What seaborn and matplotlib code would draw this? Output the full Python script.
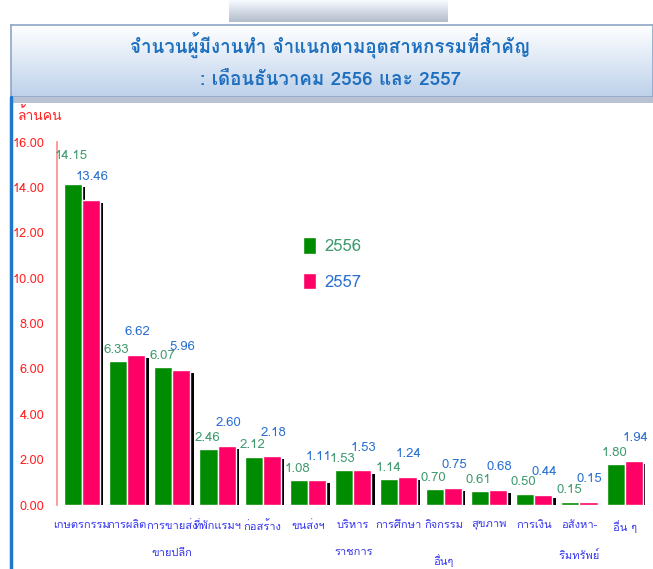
import numpy as np
import pandas as pd
import matplotlib
matplotlib.use("Agg")
import matplotlib.pyplot as plt
import matplotlib.patheffects as pe
from matplotlib import font_manager as fm
from matplotlib.ft2font import FT2Font
from matplotlib.patches import Rectangle
import seaborn as sns

# ---------------- data ----------------
categories = ["เกษตรกรรม", "การผลิต", "การขายส่ง\nขายปลีก", "ที่พักแรมฯ", "ก่อสร้าง",
              "ขนส่งฯ", "บริหาร\nราชการ", "การศึกษา", "กิจกรรม\nอื่นๆ", "สุขภาพ",
              "การเงิน", "อสังหา-\nริมทรัพย์", "อื่น ๆ"]
values_2556 = [14.15, 6.33, 6.07, 2.46, 2.12, 1.08, 1.53, 1.14, 0.70, 0.61, 0.50, 0.15, 1.80]
values_2557 = [13.46, 6.62, 5.96, 2.60, 2.18, 1.11, 1.53, 1.24, 0.75, 0.68, 0.44, 0.15, 1.94]
series = ["2556", "2557"]
yticks = [0, 2, 4, 6, 8, 10, 12, 14, 16]
title_line1 = "จำนวนผู้มีงานทำ จำแนกตามอุตสาหกรรมที่สำคัญ"
title_line2 = ": เดือนธันวาคม 2556 และ 2557"
ylabel = "ล้านคน"

# ---------------- fonts ----------------
sns.set_theme(style="white")
thai_fams = []
for f in fm.fontManager.ttflist:
    try:
        ft = FT2Font(f.fname)
        if ft.get_char_index(ord("ก")) and f.name not in thai_fams:
            thai_fams.append(f.name)
    except Exception:
        pass
pref = [n for n in thai_fams if "Tahoma" in n or "Loma" in n or "Thai" in n]
fams = (pref + thai_fams)[:1] + ["DejaVu Sans"]
plt.rcParams["font.family"] = fams

df = pd.DataFrame({
    "cat": categories * 2,
    "year": [series[0]] * len(categories) + [series[1]] * len(categories),
    "val": values_2556 + values_2557,
})

W, H = 653, 569
fig = plt.figure(figsize=(W / 100, H / 100), dpi=100)
fig.patch.set_facecolor("white")

def fx(px):
    return px / W

def fy(py):
    return 1 - py / H

# decorative top picture
top_ax = fig.add_axes([fx(229), fy(22), fx(218), 22 / H])
g = np.linspace(0, 1, 50).reshape(-1, 1, 1)
timg = (np.array([0.97, 0.98, 1.0]) * (1 - g) + np.array([0.70, 0.74, 0.80]) * g) * np.ones((1, 10, 1))
top_ax.imshow(timg, aspect="auto")
top_ax.axis("off")

# banner
ban = fig.add_axes([fx(11), fy(97), 1 - fx(11), 72 / H])
grad = np.linspace(0, 1, 100).reshape(-1, 1)
c_top = np.array([1.0, 1.0, 1.0])
c_bot = np.array([0.74, 0.82, 0.92])
img = (c_top * (1 - grad[..., None]) + c_bot * grad[..., None]) * np.ones((1, 2, 1))
ban.imshow(img, aspect="auto", extent=[0, 1, 0, 1])
ban.set_xlim(0, 1)
ban.set_ylim(0, 1)
ban.set_xticks([])
ban.set_yticks([])
for s in ban.spines.values():
    s.set_color("#8ea6c6")
    s.set_linewidth(1.2)
ban.text(0.497, 0.72, title_line1, ha="center", va="center", fontsize=13.5,
         fontweight="bold", color="#1f6fbf", transform=ban.transAxes)
ban.text(0.497, 0.23, title_line2, ha="center", va="center", fontsize=13.5,
         fontweight="bold", color="#1f6fbf", transform=ban.transAxes)

# strip under banner and left blue line
fig.patches.append(Rectangle((fx(12), fy(103)), 1 - fx(12), 6 / H, transform=fig.transFigure,
                             facecolor="#b8c2d2", edgecolor="none", hatch="....", zorder=0))
fig.add_artist(plt.Line2D([fx(11), fx(11)], [fy(97), 0], transform=fig.transFigure,
                          color="#1e78d0", lw=2.5))

# main axes
ax = fig.add_axes([fx(57), fy(505), fx(645) - fx(57), (505 - 142) / H])
sns.barplot(data=df, x="cat", y="val", hue="year", palette=["#008c00", "#ff0066"],
            width=0.8, saturation=1, ax=ax, legend=True, zorder=3)
ax.set_xlim(-0.55, 12.45)
ax.set_ylim(0, 16)
ax.set_yticks(yticks)
ax.set_yticklabels([f"{v:.2f}" for v in yticks], color="#ff2020", fontsize=9.2)
ax.tick_params(axis="y", length=4, color="#ff8080", width=1, direction="out", pad=5)
ax.tick_params(axis="x", length=0, pad=11)
ax.set_xticks(range(len(categories)))
ax.set_xticklabels(categories, color="#3535f0", fontsize=8, linespacing=3.15, va="top")
ax.set_xlabel("")
ax.set_ylabel("")
for s in ["top", "right", "bottom"]:
    ax.spines[s].set_visible(False)
ax.spines["left"].set_color("#ff8a8a")
ax.spines["left"].set_linewidth(1.2)
ax.set_facecolor("none")

shadow = [pe.SimplePatchShadow(offset=(2.5, -2.5), shadow_rgbFace="black", alpha=1), pe.Normal()]
for cont in ax.containers:
    for p in cont:
        p.set_path_effects(shadow)

label_cols = ["#3f9a6e", "#2a70d0"]
offsets = [(-1, 4), (1, 12)]
vals = [values_2556, values_2557]
for i, cont in enumerate(ax.containers):
    for j, (p, v) in enumerate(zip(cont, vals[i])):
        dx, dy = offsets[i]
        # lift the first-series label when it would collide with the neighbouring label
        if i == 0 and v - vals[1][j] > 0.4:
            dy += 12
        ax.annotate(f"{v:.2f}", (p.get_x() + p.get_width() / 2, v), xytext=(dx, dy),
                    textcoords="offset points", ha="center", va="bottom",
                    fontsize=9.5, color=label_cols[i])

fig.text(fx(18), fy(115), ylabel, color="#ff2020", fontsize=10, ha="left", va="center")

leg = ax.legend(loc="upper left", bbox_to_anchor=(fx(295), fy(229)),
                bbox_transform=fig.transFigure, frameon=False, fontsize=12,
                handlelength=0.75, handleheight=1.15, labelspacing=1.05, handletextpad=0.5,
                borderpad=0, labelcolor=label_cols)
for h in leg.legend_handles:
    h.set_path_effects([])

fig.savefig("out.png", dpi=100)
